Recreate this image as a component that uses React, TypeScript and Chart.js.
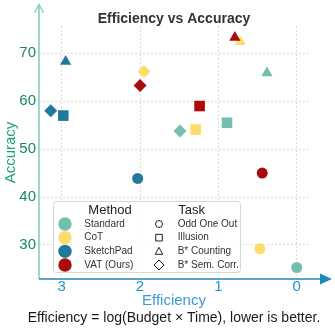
import React, { useEffect, useRef } from 'react';
import { Chart, registerables } from 'chart.js';

Chart.register(...registerables);

const FONT = '"Liberation Sans", Arial, Helvetica, sans-serif';

const METHODS = ['Standard', 'CoT', 'SketchPad', 'VAT (Ours)'];
const METHOD_COLORS = ['#73bfaf', '#fddc6c', '#22789c', '#ab0b0b'];
const TASKS = ['Odd One Out', 'Illusion', 'B* Counting', 'B* Sem. Corr.'];
const TASK_STYLES = ['circle', 'rect', 'triangle', 'rectRot'];
const TASK_RADII = [5.5, 7.5, 6.5, 6.5];

// values per method, in TASKS order: efficiency (x) and accuracy (y)
const STANDARD_X = [0.0, 0.89, 0.38, 1.49];
const STANDARD_Y = [25.3, 55.5, 65.9, 53.8];
const COT_X = [0.47, 1.29, 0.72, 1.95];
const COT_Y = [29.2, 54.1, 72.4, 66.2];
const SKETCHPAD_X = [2.03, 2.98, 2.95, 3.14];
const SKETCHPAD_Y = [43.9, 57.0, 68.3, 58.0];
const VAT_X = [0.44, 1.24, 0.79, 2.0];
const VAT_Y = [45.0, 59.0, 73.3, 63.3];

const X_TICKS = [0, 1, 2, 3];
const Y_TICKS = [30, 40, 50, 60, 70];

const SERIES = [
  { xs: STANDARD_X, ys: STANDARD_Y, order: 4 },
  { xs: COT_X, ys: COT_Y, order: 3 },
  { xs: SKETCHPAD_X, ys: SKETCHPAD_Y, order: 2 },
  { xs: VAT_X, ys: VAT_Y, order: 1 },
];

const Y_AXIS_COLOR = '#84cfba';
const X_AXIS_COLOR = '#2087ba';

const decor = {
  id: 'decor',
  beforeDatasetsDraw(chart: any) {
    const ctx = chart.ctx as CanvasRenderingContext2D;
    const a = chart.chartArea;
    ctx.save();
    // y axis with open arrow
    ctx.strokeStyle = Y_AXIS_COLOR;
    ctx.lineWidth = 1.6;
    ctx.beginPath();
    ctx.moveTo(a.left, a.bottom);
    ctx.lineTo(a.left, 4.5);
    ctx.stroke();
    ctx.lineWidth = 1.3;
    ctx.beginPath();
    ctx.moveTo(a.left - 4.5, 13);
    ctx.lineTo(a.left, 4.5);
    ctx.lineTo(a.left + 4.5, 13);
    ctx.stroke();
    // x axis with filled arrow
    ctx.strokeStyle = X_AXIS_COLOR;
    ctx.fillStyle = X_AXIS_COLOR;
    ctx.lineWidth = 1.6;
    ctx.beginPath();
    ctx.moveTo(a.left, a.bottom);
    ctx.lineTo(322, a.bottom);
    ctx.stroke();
    ctx.beginPath();
    ctx.moveTo(332, a.bottom);
    ctx.lineTo(320, a.bottom - 5.5);
    ctx.lineTo(320, a.bottom + 5.5);
    ctx.closePath();
    ctx.fill();
    ctx.restore();
  },
  afterDatasetsDraw(chart: any) {
    const ctx = chart.ctx as CanvasRenderingContext2D;
    const a = chart.chartArea;
    ctx.save();
    // title
    ctx.fillStyle = '#333333';
    ctx.font = `bold 14px ${FONT}`;
    ctx.textAlign = 'center';
    ctx.textBaseline = 'alphabetic';
    ctx.fillText('Efficiency vs Accuracy', 174, 22.5);
    // caption
    ctx.fillStyle = '#1a1a1a';
    ctx.font = `14px ${FONT}`;
    ctx.fillText('Efficiency = log(Budget \u00d7 Time), lower is better.', 174, 321.5);

    // legend
    const L = a.left + 14;
    const T = a.top + 175;
    const W = 187;
    const H = 71;
    ctx.beginPath();
    (ctx as any).roundRect(L + 0.5, T + 0.5, W, H, 3);
    ctx.fillStyle = 'rgba(255,255,255,0.85)';
    ctx.fill();
    ctx.strokeStyle = '#d6d6d6';
    ctx.lineWidth = 1;
    ctx.stroke();

    ctx.fillStyle = '#222222';
    ctx.font = `13px ${FONT}`;
    ctx.textAlign = 'center';
    ctx.textBaseline = 'middle';
    ctx.fillText('Method', L + 57, T + 9);
    ctx.fillText('Task', L + 138.7, T + 9);

    const rowY = (i: number) => T + 23 + i * 13.67;
    ctx.font = `10px ${FONT}`;
    ctx.textAlign = 'left';
    METHODS.forEach((m, i) => {
      ctx.beginPath();
      ctx.arc(L + 12, rowY(i), 6.7, 0, Math.PI * 2);
      ctx.fillStyle = METHOD_COLORS[i];
      ctx.fill();
      ctx.fillStyle = '#333333';
      ctx.fillText(m, L + 31.3, rowY(i));
    });
    TASKS.forEach((t, i) => {
      const cx = L + 106;
      const cy = rowY(i);
      ctx.strokeStyle = '#222222';
      ctx.lineWidth = 1;
      ctx.beginPath();
      const st = TASK_STYLES[i];
      if (st === 'circle') {
        ctx.arc(cx, cy, 3.5, 0, Math.PI * 2);
      } else if (st === 'rect') {
        ctx.rect(cx - 3.3, cy - 3.3, 6.6, 6.6);
      } else if (st === 'triangle') {
        ctx.moveTo(cx, cy - 4);
        ctx.lineTo(cx + 3.8, cy + 3);
        ctx.lineTo(cx - 3.8, cy + 3);
        ctx.closePath();
      } else {
        ctx.moveTo(cx, cy - 5);
        ctx.lineTo(cx + 5, cy);
        ctx.lineTo(cx, cy + 5);
        ctx.lineTo(cx - 5, cy);
        ctx.closePath();
      }
      ctx.stroke();
      ctx.fillStyle = '#333333';
      ctx.fillText(t, L + 124.7, cy);
    });
    ctx.restore();
  },
};

export default function App() {
  const ref = useRef<HTMLCanvasElement>(null);
  useEffect(() => {
    const canvas = ref.current;
    if (!canvas) return;
    const chart = new Chart(canvas, {
      type: 'scatter',
      data: {
        datasets: SERIES.map((s, k) => ({
          label: METHODS[k],
          data: s.xs.map((x, i) => ({ x, y: s.ys[i] })),
          pointStyle: TASK_STYLES as any,
          pointRadius: TASK_RADII,
          pointHoverRadius: TASK_RADII,
          backgroundColor: METHOD_COLORS[k],
          borderColor: METHOD_COLORS[k],
          borderWidth: 0,
          order: s.order,
        })),
      },
      options: {
        animation: false,
        responsive: false,
        maintainAspectRatio: false,
        events: [],
        layout: { padding: { top: 26, right: 26, left: 0, bottom: 0 } },
        plugins: {
          legend: { display: false },
          tooltip: { enabled: false },
          title: { display: false },
        },
        scales: {
          x: {
            type: 'linear',
            reverse: true,
            min: -0.157,
            max: 3.29,
            afterBuildTicks: (s: any) => {
              s.ticks = X_TICKS.map((v) => ({ value: v }));
            },
            afterFit: (s: any) => {
              s.height = 49;
            },
            grid: { color: '#d2d2d2', lineWidth: 0.8, drawTicks: false },
            border: { display: false, dash: [2, 2] },
            ticks: {
              font: { family: FONT, size: 15, lineHeight: 1 },
              color: '#2a8fc6',
              padding: 0,
              maxRotation: 0,
              autoSkip: false,
            },
            title: {
              display: true,
              text: 'Efficiency',
              color: '#3a9ad6',
              font: { family: FONT, size: 15 },
              padding: { top: 0, bottom: 18 },
            },
          },
          y: {
            type: 'linear',
            min: 22.9,
            max: 75.7,
            afterBuildTicks: (s: any) => {
              s.ticks = Y_TICKS.map((v) => ({ value: v }));
            },
            afterFit: (s: any) => {
              s.width = 39;
            },
            grid: { color: '#d2d2d2', lineWidth: 0.8, drawTicks: false },
            border: { display: false, dash: [2, 2] },
            ticks: {
              font: { family: FONT, size: 15 },
              color: '#17876a',
              padding: 3,
              autoSkip: false,
            },
            title: {
              display: true,
              text: 'Accuracy',
              color: '#1e9e7b',
              font: { family: FONT, size: 15 },
              padding: { top: 1.5, bottom: 0 },
            },
          },
        },
      },
      plugins: [decor],
    } as any);
    return () => chart.destroy();
  }, []);
  return (
    <div style={{ position: 'fixed', left: 0, top: 0, width: 335, height: 328, background: '#ffffff' }}>
      <canvas ref={ref} width={335} height={328} style={{ display: 'block', width: 335, height: 328 }} />
    </div>
  );
}
